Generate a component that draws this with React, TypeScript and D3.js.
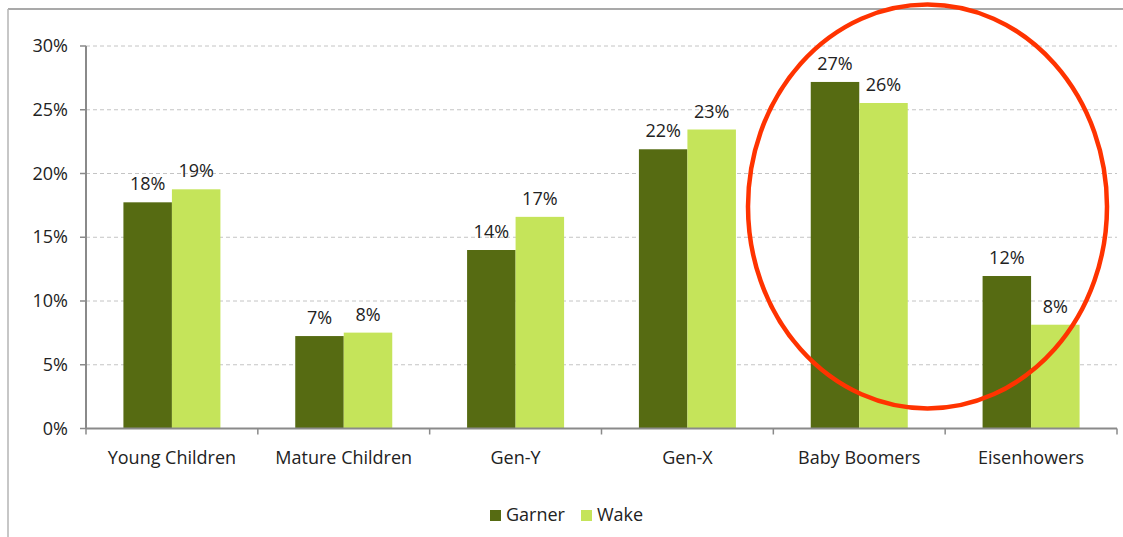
import React from "react";
import * as d3 from "d3";

const categories = ["Young Children", "Mature Children", "Gen-Y", "Gen-X", "Baby Boomers", "Eisenhowers"];
const seriesNames = ["Garner", "Wake"];
const garner = [17.74, 7.25, 14.0, 21.9, 27.18, 11.96];
const wake = [18.76, 7.52, 16.6, 23.45, 25.53, 8.14];
const yTicks = [0, 5, 10, 15, 20, 25, 30];
const colors = ["#566b12", "#c5e45a"];

const W = 1123, H = 537;
const FONT = "'Open Sans', Lato, sans-serif";
const FS = 18;

export default function App() {
  const x0 = 86, x1 = 1117;
  const y = d3.scaleLinear().domain([0, 30]).range([428.5, 46]);
  const xb = d3.scaleBand<string>().domain(categories).range([x0, x1]).paddingInner(0).paddingOuter(0);
  const bw = 48.5;
  const data = [garner, wake];

  return (
    <svg width={W} height={H} style={{ position: "absolute", left: 0, top: 0, background: "#fff" }}>
      {/* outer frame */}
      <line x1={8} y1={9} x2={W} y2={9} stroke="#8c8c8c" strokeWidth={1.5} />
      <line x1={8} y1={9} x2={8} y2={H} stroke="#b4b4b4" strokeWidth={1.5} />

      {/* gridlines */}
      {yTicks.filter(t => t > 0).map(t => (
        <line key={"g" + t} x1={x0} x2={x1} y1={y(t)} y2={y(t)} stroke="#c4c4c4" strokeWidth={1} strokeDasharray="4,3" />
      ))}

      {/* bars */}
      {categories.map((c, i) => {
        const cx = (xb(c) as number) + xb.bandwidth() / 2;
        return data.map((s, k) => {
          const bx = cx - bw + k * bw;
          return (
            <g key={c + k}>
              <rect x={bx} y={y(s[i])} width={bw} height={y(0) - y(s[i])} fill={colors[k]} />
              <text x={bx + bw / 2} y={y(s[i]) - 12} textAnchor="middle" fontFamily={FONT} fontSize={FS} fill="#222">
                {d3.format(".0f")(s[i]) + "%"}
              </text>
            </g>
          );
        });
      })}

      {/* y axis */}
      <line x1={x0} x2={x0} y1={y(30)} y2={y(0)} stroke="#8a8a8a" strokeWidth={2} />
      {yTicks.map(t => (
        <g key={"t" + t}>
          <line x1={x0 - 6} x2={x0} y1={y(t)} y2={y(t)} stroke="#8a8a8a" strokeWidth={1.5} />
          <text x={68} y={y(t) + 6} textAnchor="end" fontFamily={FONT} fontSize={FS} fill="#222">{t + "%"}</text>
        </g>
      ))}

      {/* x axis */}
      <line x1={x0} x2={x1} y1={y(0)} y2={y(0)} stroke="#8a8a8a" strokeWidth={2} />
      {d3.range(categories.length + 1).map(i => {
        const xx = x0 + i * xb.bandwidth();
        return <line key={"xt" + i} x1={xx} x2={xx} y1={y(0)} y2={y(0) + 6} stroke="#8a8a8a" strokeWidth={1.5} />;
      })}
      {categories.map(c => (
        <text key={"c" + c} x={(xb(c) as number) + xb.bandwidth() / 2} y={464} textAnchor="middle" fontFamily={FONT} fontSize={FS} fill="#222">{c}</text>
      ))}

      {/* legend */}
      {seriesNames.map((n, k) => {
        const lx = k === 0 ? 490 : 581;
        return (
          <g key={"l" + n}>
            <rect x={lx} y={510} width={11} height={11} fill={colors[k]} />
            <text x={lx + 16} y={521} fontFamily={FONT} fontSize={FS} fill="#222">{n}</text>
          </g>
        );
      })}

      {/* red ellipse annotation */}
      <ellipse cx={927.5} cy={206.5} rx={179.5} ry={202} fill="none" stroke="#ff3300" strokeWidth={4.5} />
    </svg>
  );
}
